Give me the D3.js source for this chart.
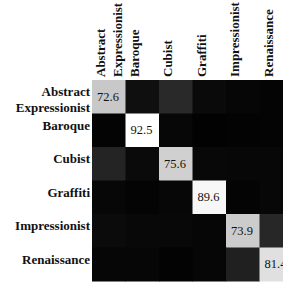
<!DOCTYPE html>
<html>
<head>
<meta charset="utf-8">
<script src="https://cdn.jsdelivr.net/npm/d3@7"></script>
<style>
body { margin: 0; background: #fff; }
text { font-family: "Liberation Serif", "Times New Roman", serif; }
</style>
</head>
<body>
<svg id="chart" width="283" height="282"></svg>
<script>
var classes = ["Abstract Expressionist", "Baroque", "Cubist", "Graffiti", "Impressionist", "Renaissance"];
var colLabels = [["Abstract", "Expressionist"], ["Baroque"], ["Cubist"], ["Graffiti"], ["Impressionist"], ["Renaissance"]];
var rowLabels = [["Abstract", "Expressionist"], ["Baroque"], ["Cubist"], ["Graffiti"], ["Impressionist"], ["Renaissance"]];

// confusion matrix, rows = true class, cols = predicted (percent)
var matrix = [
    [72.6, 5.5, 15.0, 3.5, 2.0, 1.4],
    [1.5, 92.5, 2.5, 0.8, 1.2, 1.5],
    [13.0, 3.5, 75.6, 3.0, 2.5, 2.4],
    [2.5, 1.5, 2.5, 89.6, 1.5, 2.4],
    [4.0, 3.0, 3.0, 2.0, 73.9, 14.2],
    [2.0, 2.0, 1.0, 2.0, 11.6, 81.4]
];

var svg = d3.select("#chart");
var gridLeft = 92, gridTop = 80, cell = 33.5;
var LBL_SZE = "13px";

var x = d3.scaleBand().domain(d3.range(classes.length)).range([gridLeft, gridLeft + cell * classes.length]);
var y = d3.scaleBand().domain(d3.range(classes.length)).range([gridTop, gridTop + cell * classes.length]);
var grey = d3.scaleLinear().domain([0, 92.5]).range([0, 255]).clamp(true);

var cells = [];
matrix.forEach(function(row, i) {
    row.forEach(function(v, j) { cells.push({r: i, c: j, v: v}); });
});

svg.selectAll("rect.cell")
    .data(cells)
    .enter()
    .append("rect")
    .attr("class", "cell")
    .attr("x", d => x(d.c))
    .attr("y", d => y(d.r))
    .attr("width", x.bandwidth() + 0.5)
    .attr("height", y.bandwidth() + 0.5)
    .style("fill", function(d) { var g = Math.round(grey(d.v)); return "rgb(" + g + "," + g + "," + g + ")"; });

// diagonal values
svg.selectAll("text.val")
    .data(cells.filter(d => d.r == d.c))
    .enter()
    .append("text")
    .attr("class", "val")
    .attr("x", d => x(d.c) + 5)
    .attr("y", d => y(d.r) + y.bandwidth() / 2 + 4)
    .style("font-size", "12.5px")
    .style("fill", "#111")
    .text(d => d.v.toFixed(1));

// column labels
colLabels.forEach(function(lines, j) {
    lines.forEach(function(t, k) {
        var cx = x(j) + 13 + (lines.length > 1 ? k * 17 : 0);
        svg.append("text")
            .attr("transform", "translate(" + cx + "," + (gridTop - 3) + ") rotate(-90)")
            .style("font-size", LBL_SZE)
            .style("font-weight", "bold")
            .style("fill", "#111")
            .text(t);
    });
});

// row labels
rowLabels.forEach(function(lines, i) {
    lines.forEach(function(t, k) {
        svg.append("text")
            .attr("x", gridLeft - 2)
            .attr("y", y(i) + 16 + k * 16)
            .attr("text-anchor", "end")
            .style("font-size", LBL_SZE)
            .style("font-weight", "bold")
            .style("fill", "#111")
            .text(t);
    });
});
</script>
</body>
</html>
